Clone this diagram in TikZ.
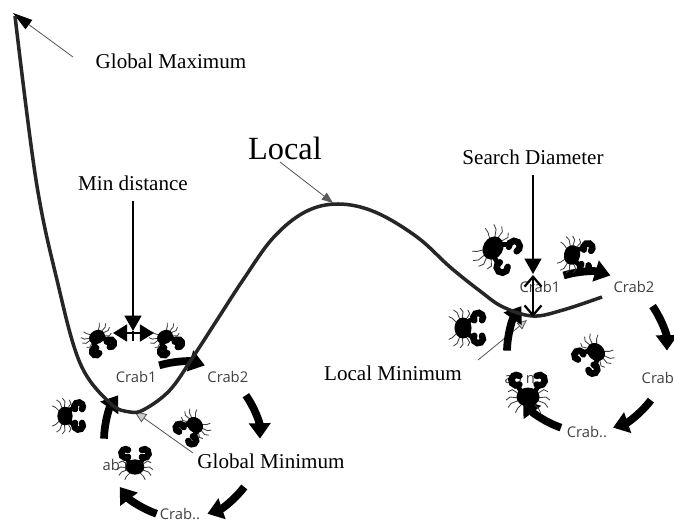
\documentclass[tikz,border=0pt]{standalone}
\usepackage{fontspec}
\setmainfont{Liberation Serif}
\newfontfamily\cyclefont{Open Sans}
\usetikzlibrary{arrows.meta}

\tikzset{
  crableg/.style={gray!50!black, line width=0.6pt},
  crabarm/.style={line width=3.4pt, line cap=round},
  crab/.pic={
    % legs
    \foreach \s in {-1,1} {
      \draw[crableg] (\s*7,-2) -- (\s*15,-7) -- (\s*19,-5);
      \draw[crableg] (\s*8,1) -- (\s*17,0) -- (\s*21,3);
      \draw[crableg] (\s*8,3) -- (\s*16,6) -- (\s*19,10);
      \draw[crableg] (\s*5,6) -- (\s*10,11) -- (\s*12,15);
      \draw[crabarm] (\s*6,-4) -- (\s*10,-11);
    }
    % pincers
    \draw[crabarm, line width=4.6pt] (-11,-16) ++(55:5) arc[start angle=55, end angle=305, radius=5];
    \draw[crabarm, line width=4.6pt] (11,-16) ++(235:5) arc[start angle=235, end angle=485, radius=5];
    % body
    \fill (0,0) ellipse [x radius=11, y radius=9];
  }
}

\begin{document}
\begin{tikzpicture}[x=0.025cm, y=-0.025cm,
    curve/.style={black!85, line width=2.5pt},
    pointer/.style={gray!70!black, line width=0.6pt},
    measure/.style={black, line width=1.6pt},
    cyclearrow/.style={line width=5.5pt, -{Triangle[length=11pt,width=15pt]}},
    cyclelabel/.style={font=\cyclefont\fontsize{10.5}{12}\selectfont, text=black!75, inner sep=1pt},
    plotlabel/.style={font=\fontsize{15}{18}\selectfont}]
\useasboundingbox (0,0) rectangle (674,523);
\clip (0,0) rectangle (674,523);

% centres of the crab cycles
\coordinate (lc) at (182,440);
\coordinate (rc) at (587,352);

% pointers to the extrema
\coordinate (gmaxtail) at (73,57);
\coordinate (gmaxtip) at (13,13);
\coordinate (loctail) at (280,162);
\coordinate (loctip) at (333,203);
\coordinate (gmintail) at (193,453);
\coordinate (gmintip) at (134,411);
\coordinate (lmintail) at (478,360);
\coordinate (lmintip) at (527,320);
\draw[pointer, -{Triangle[length=14pt,width=8pt,color=black]}] (gmaxtail) -- (gmaxtip);
\draw[pointer, -{Triangle[length=8pt,width=6pt]}] (loctail) -- (loctip);
\draw[pointer, -{Triangle[length=9pt,width=7pt,fill=gray!40]}] (gmintail) -- (gmintip);
\draw[pointer, -{Triangle[length=7pt,width=6pt,fill=gray!40]}] (lmintail) -- (lmintip);

% left cycle
\foreach \a in {-90,-18,54,126,198}
  \draw[cyclearrow] (lc) ++(\a-17:78) arc[start angle=\a-17, end angle=\a+17, radius=78];
\foreach \a/\t [count=\i] in {-126/Crab1, -54/Crab2}
  \path (lc) ++(\a:78) node[cyclelabel] (lcl\i) {\t};
\node[cyclelabel] (lcl3) at (180,514) {Crab..};
\node[cyclelabel, anchor=west] (lcl4) at (101,465) {ab n};

% right cycle
\foreach \a in {-90,-18,54,126,198}
  \draw[cyclearrow] (rc) ++(\a-17:80) arc[start angle=\a-17, end angle=\a+17, radius=80];
\foreach \a/\t [count=\i] in {-126/Crab1, -54/Crab2, 90/Crab..}
  \path (rc) ++(\a:80) node[cyclelabel] (rcl\i) {\t};
\node[cyclelabel, anchor=west] (rcl4) at (640,378) {Crab};
\node[cyclelabel, anchor=west] (rcl5) at (503,378) {ab n};

% the function
\draw[curve] plot[smooth, tension=0.6] coordinates {(15,16) (36,180) (57,280) (80,363) (110,403)
  (130,412) (145,409) (170,390) (193,357) (217,320) (243,280) (273,238) (305,212) (338,204)
  (375,212) (417,237) (450,267) (480,291) (503,307) (533,316) (563,310) (602,297)};

% crabs
\foreach \x/\y/\r/\s in {97/337/-150/0.75, 165/337/-150/0.75, 65/416/-90/0.85, 195/425/135/0.8,
    135/467/0/0.85, 493/248/-120/1.1, 572/255/-100/0.9, 463/328/-90/0.95, 596/352/135/0.9,
    528/397/0/1.05}
  \pic[rotate=\r, scale=\s] at (\x,\y) {crab};

% labels
\node (gmax) at (171,61) [plotlabel] {Global Maximum};
\node (local) at (285,148) [plotlabel, font=\fontsize{23}{27}\selectfont] {Local};
\node (mind) at (133,183) [plotlabel] {Min distance};
\node (sdiam) at (533,157) [plotlabel] {Search Diameter};
\node (lmin) at (393,373) [plotlabel] {Local Minimum};
\node (gmin) at (271,461) [plotlabel] {Global Minimum};

% Min distance
\coordinate (mindtip) at (133,331);
\coordinate (mindl) at (113,333);
\coordinate (mindr) at (154,333);
\draw[measure, -{Triangle[length=11pt,width=12pt]}, shorten <=4pt] (mind.south) -- (mindtip);
\draw[measure, {Triangle[length=10pt,width=12pt]}-{Triangle[length=10pt,width=12pt]}] (mindl) -- (mindr);
\draw[measure] (mindtip) -- ++(0,10);

% Search Diameter
\coordinate (sdtip) at (533,274);
\coordinate (sdtop) at (533,275);
\coordinate (sdbot) at (533,317);
\draw[measure, -{Triangle[length=11pt,width=12pt]}, shorten <=4pt] (sdiam.south) -- (sdtip);
\draw[measure, {Straight Barb[length=7pt,width=12pt]}-{Straight Barb[length=7pt,width=12pt]}] (sdtop) -- (sdbot);
\end{tikzpicture}
\end{document}
